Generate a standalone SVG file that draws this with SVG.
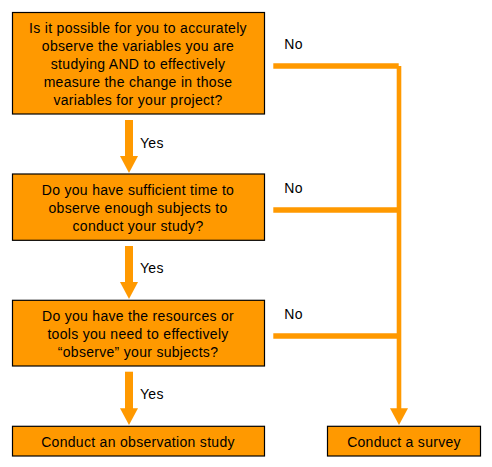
<svg xmlns="http://www.w3.org/2000/svg" width="492" height="467" viewBox="0 0 492 467">
<style>
.box{fill:#FF9900;stroke:#000;stroke-width:1.2}
.t{font-family:"Liberation Sans",Arial,sans-serif;font-size:14px;fill:#000;text-anchor:middle;letter-spacing:0.3px}
.l{font-family:"Liberation Sans",Arial,sans-serif;font-size:14px;fill:#000;letter-spacing:0.3px}
.c{stroke:#FF9900;fill:none}
.h{fill:#FF9900}
</style>
<rect width="492" height="467" fill="#fff"/>
<g id="q1">
<rect class="box" x="12.5" y="12.5" width="252" height="101.5"/>
<text class="t" x="138" y="33.3">Is it possible for you to accurately</text>
<text class="t" x="138" y="51.3">observe the variables you are</text>
<text class="t" x="138" y="69.3">studying AND to effectively</text>
<text class="t" x="138" y="87.3">measure the change in those</text>
<text class="t" x="138" y="105.3">variables for your project?</text>
</g>
<g id="q2">
<rect class="box" x="12.5" y="174" width="252" height="66.3"/>
<text class="t" x="138" y="195">Do you have sufficient time to</text>
<text class="t" x="138" y="213">observe enough subjects to</text>
<text class="t" x="138" y="231">conduct your study?</text>
</g>
<g id="q3">
<rect class="box" x="12.5" y="300.3" width="252" height="65.7"/>
<text class="t" x="138" y="320.7">Do you have the resources or</text>
<text class="t" x="138" y="338.7">tools you need to effectively</text>
<text class="t" x="138" y="356.7">“observe” your subjects?</text>
</g>
<g id="observation">
<rect class="box" x="12.5" y="426.3" width="252" height="29.7"/>
<text class="t" x="138" y="446.7">Conduct an observation study</text>
</g>
<g id="survey">
<rect class="box" x="327.5" y="426.3" width="153" height="29.7"/>
<text class="t" x="404" y="446.7">Conduct a survey</text>
</g>
<g id="connectors">
<line class="c" x1="129" y1="120" x2="129" y2="157" stroke-width="8"/>
<polygon class="h" points="120,156 138,156 129,173"/>
<line class="c" x1="129" y1="246" x2="129" y2="283" stroke-width="8"/>
<polygon class="h" points="120,282 138,282 129,299"/>
<line class="c" x1="129" y1="371.7" x2="129" y2="409" stroke-width="8"/>
<polygon class="h" points="120,408.3 138,408.3 129,425"/>
<line class="c" x1="273.3" y1="66" x2="398.7" y2="66" stroke-width="5.3"/>
<line class="c" x1="273.3" y1="210" x2="399" y2="210" stroke-width="5.3"/>
<line class="c" x1="273.3" y1="336" x2="399" y2="336" stroke-width="5.3"/>
<line class="c" x1="399" y1="66" x2="399" y2="409" stroke-width="4.6"/>
<polygon class="h" points="390,408.3 408,408.3 399,425"/>
<text class="l" x="284.3" y="49.3">No</text>
<text class="l" x="284.3" y="193.3">No</text>
<text class="l" x="284.3" y="319.3">No</text>
<text class="l" x="140" y="147.7">Yes</text>
<text class="l" x="140" y="273.3">Yes</text>
<text class="l" x="140" y="399.3">Yes</text>
</g>
</svg>
